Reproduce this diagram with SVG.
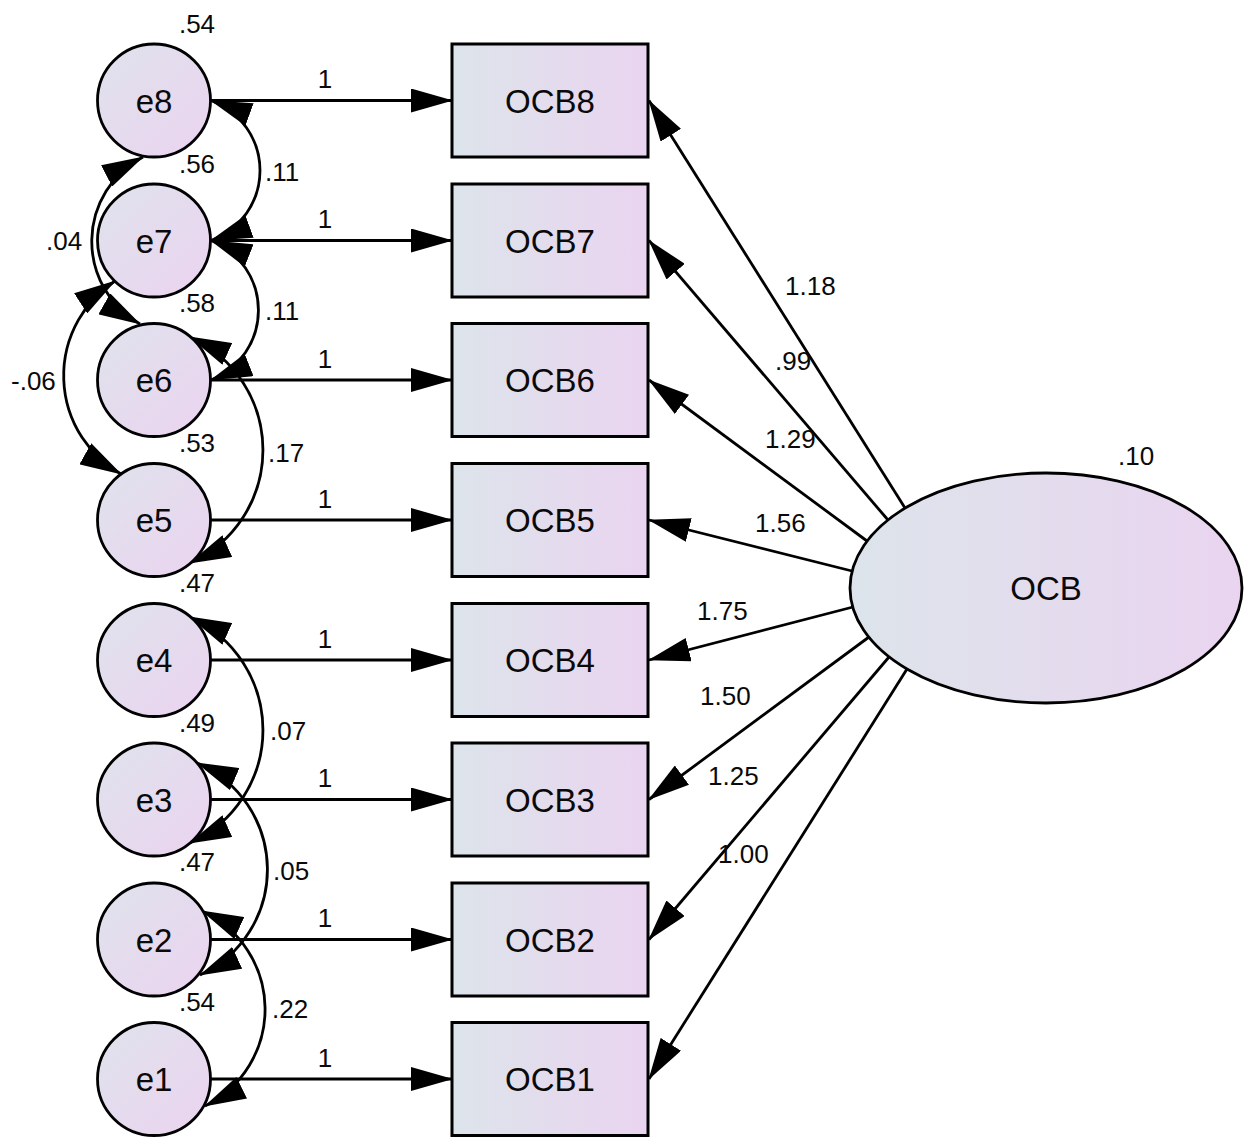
<svg xmlns="http://www.w3.org/2000/svg" width="1245" height="1137" viewBox="0 0 1245 1137">
  <defs>
    <linearGradient id="gCircle" x1="0" y1="0" x2="1" y2="1">
      <stop offset="0" stop-color="#dfe3ec"/>
      <stop offset="1" stop-color="#ebd3f0"/>
    </linearGradient>
    <linearGradient id="gBox" x1="0" y1="0" x2="1" y2="0">
      <stop offset="0" stop-color="#dde4eb"/>
      <stop offset="1" stop-color="#ead4f0"/>
    </linearGradient>
    <marker id="ah" markerUnits="userSpaceOnUse" viewBox="0 0 42 24" markerWidth="42" markerHeight="24" refX="41" refY="12" orient="auto-start-reverse">
      <path d="M0,0 L42,12 L0,24 z" fill="#000"/>
    </marker>
  </defs>
  <style>
    .err { fill: url(#gCircle); stroke: #000; stroke-width: 2.8; }
    .obs { fill: url(#gBox); stroke: #000; stroke-width: 3; }
    .lat { fill: url(#gBox); stroke: #000; stroke-width: 2.8; }
    .node { font-family: "Liberation Sans", Arial, sans-serif; font-size: 33px; fill: #0a0a0a; text-anchor: middle; }
    .lbl { font-family: "Liberation Sans", Arial, sans-serif; font-size: 26px; fill: #0a0a0a; }
    .mid { text-anchor: middle; }
    .path { fill: none; stroke: #000; stroke-width: 2.8; marker-end: url(#ah); }
    .cov { fill: none; stroke: #000; stroke-width: 2.8; marker-start: url(#ah); marker-end: url(#ah); }
  </style>

  <rect width="1245" height="1137" fill="#fff"/>

  <!-- connectors -->
  <g id="connectors">
    <!-- error terms to indicators -->
    <path class="path" d="M211 100.5 L452 100.5"/>
    <path class="path" d="M211 240.5 L452 240.5"/>
    <path class="path" d="M211 380 L452 380"/>
    <path class="path" d="M211 520 L452 520"/>
    <path class="path" d="M211 660 L452 660"/>
    <path class="path" d="M211 799.5 L452 799.5"/>
    <path class="path" d="M211 939.5 L452 939.5"/>
    <path class="path" d="M211 1079 L452 1079"/>
    <!-- loadings from OCB -->
    <path class="path" d="M905 508 L649 100.5"/>
    <path class="path" d="M888 520 L649 240.5"/>
    <path class="path" d="M867 541 L649 380"/>
    <path class="path" d="M852 571 L649 520"/>
    <path class="path" d="M853 607 L649 660"/>
    <path class="path" d="M869 637 L649 799.5"/>
    <path class="path" d="M889 657 L649 939.5"/>
    <path class="path" d="M907 669 L649 1079"/>
    <!-- covariances -->
    <path class="cov" d="M211 100.5 A74.5 74.5 0 0 1 211 240.5"/>
    <path class="cov" d="M211 240.5 A75 75 0 0 1 211 380"/>
    <path class="cov" d="M190 337 A124 124 0 0 1 190 563"/>
    <path class="cov" d="M143 157 A95 95 0 0 0 140 324"/>
    <path class="cov" d="M115 281 A113 113 0 0 0 121 474"/>
    <path class="cov" d="M190 617 A124 124 0 0 1 190 843"/>
    <path class="cov" d="M197 763 A116 116 0 0 1 200 975"/>
    <path class="cov" d="M202 911 A108 108 0 0 1 205 1106"/>
  </g>

  <!-- connector labels -->
  <g id="connector-labels" class="lbl">
    <text class="mid" x="325" y="88">1</text>
    <text class="mid" x="325" y="228">1</text>
    <text class="mid" x="325" y="368">1</text>
    <text class="mid" x="325" y="508">1</text>
    <text class="mid" x="325" y="648">1</text>
    <text class="mid" x="325" y="787">1</text>
    <text class="mid" x="325" y="927">1</text>
    <text class="mid" x="325" y="1067">1</text>
    <text x="785" y="295">1.18</text>
    <text x="775" y="370">.99</text>
    <text x="765" y="448">1.29</text>
    <text x="755" y="532">1.56</text>
    <text x="697" y="620">1.75</text>
    <text x="700" y="705">1.50</text>
    <text x="708" y="785">1.25</text>
    <text x="718" y="863">1.00</text>
    <text x="265" y="181">.11</text>
    <text x="265" y="320">.11</text>
    <text x="268" y="462">.17</text>
    <text x="46" y="250">.04</text>
    <text x="11" y="390">-.06</text>
    <text x="270" y="740">.07</text>
    <text x="273" y="880">.05</text>
    <text x="272" y="1018">.22</text>
  </g>

  <!-- error terms -->
  <g id="e8"><circle class="err" cx="154" cy="100.5" r="56.5"/><text class="node" x="154" y="112.5">e8</text><text class="lbl mid" x="197" y="33">.54</text></g>
  <g id="e7"><circle class="err" cx="154" cy="240.5" r="56.5"/><text class="node" x="154" y="252.5">e7</text><text class="lbl mid" x="197" y="173">.56</text></g>
  <g id="e6"><circle class="err" cx="154" cy="380" r="56.5"/><text class="node" x="154" y="392">e6</text><text class="lbl mid" x="197" y="312">.58</text></g>
  <g id="e5"><circle class="err" cx="154" cy="520" r="56.5"/><text class="node" x="154" y="532">e5</text><text class="lbl mid" x="197" y="452">.53</text></g>
  <g id="e4"><circle class="err" cx="154" cy="660" r="56.5"/><text class="node" x="154" y="672">e4</text><text class="lbl mid" x="197" y="592">.47</text></g>
  <g id="e3"><circle class="err" cx="154" cy="799.5" r="56.5"/><text class="node" x="154" y="811.5">e3</text><text class="lbl mid" x="197" y="732">.49</text></g>
  <g id="e2"><circle class="err" cx="154" cy="939.5" r="56.5"/><text class="node" x="154" y="951.5">e2</text><text class="lbl mid" x="197" y="871">.47</text></g>
  <g id="e1"><circle class="err" cx="154" cy="1079" r="56.5"/><text class="node" x="154" y="1091">e1</text><text class="lbl mid" x="197" y="1011">.54</text></g>

  <!-- observed indicators -->
  <g id="OCB8"><rect class="obs" x="452" y="44" width="196" height="113"/><text class="node" x="550" y="112.5">OCB8</text></g>
  <g id="OCB7"><rect class="obs" x="452" y="184" width="196" height="113"/><text class="node" x="550" y="252.5">OCB7</text></g>
  <g id="OCB6"><rect class="obs" x="452" y="323.5" width="196" height="113"/><text class="node" x="550" y="392">OCB6</text></g>
  <g id="OCB5"><rect class="obs" x="452" y="463.5" width="196" height="113"/><text class="node" x="550" y="532">OCB5</text></g>
  <g id="OCB4"><rect class="obs" x="452" y="603.5" width="196" height="113"/><text class="node" x="550" y="672">OCB4</text></g>
  <g id="OCB3"><rect class="obs" x="452" y="743" width="196" height="113"/><text class="node" x="550" y="811.5">OCB3</text></g>
  <g id="OCB2"><rect class="obs" x="452" y="883" width="196" height="113"/><text class="node" x="550" y="951.5">OCB2</text></g>
  <g id="OCB1"><rect class="obs" x="452" y="1022.5" width="196" height="113"/><text class="node" x="550" y="1091">OCB1</text></g>

  <!-- latent factor -->
  <g id="OCB">
    <ellipse class="lat" cx="1046" cy="588" rx="196" ry="115"/>
    <text class="node" x="1046" y="600">OCB</text>
    <text class="lbl" x="1118" y="465">.10</text>
  </g>
</svg>
